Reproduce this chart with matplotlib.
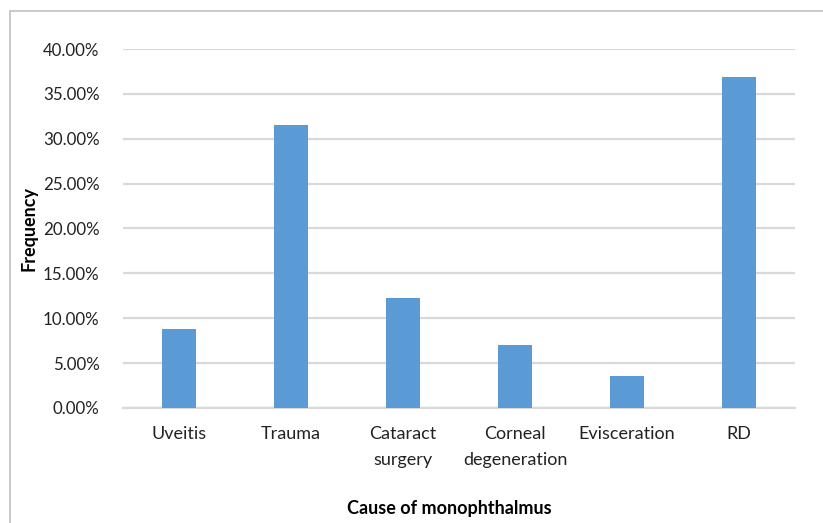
import numpy as np
import matplotlib.pyplot as plt
from matplotlib.patches import Rectangle
from matplotlib.ticker import PercentFormatter

causes = ["Uveitis", "Trauma", "Cataract\nsurgery", "Corneal\ndegeneration", "Evisceration", "RD"]
frequency = [8.77, 31.58, 12.28, 7.02, 3.51, 36.84]

plt.rcParams['font.family'] = ['Lato', 'DejaVu Sans']

fig = plt.figure(figsize=(8.23, 5.23), dpi=100)
ax = fig.add_axes([0.1495, 0.2199, 0.8165, 0.6864])

# chart frame (goes off the image on right and bottom)
fig.patches.append(Rectangle((10 / 823, -0.05), 1.2, 1 - 11 / 523 + 0.05,
                             transform=fig.transFigure, fill=False,
                             edgecolor='#c0c0c0', lw=1.2))

x = np.arange(len(causes))
ax.bar(x, frequency, width=0.31, color='#5b9bd5', zorder=3)

ax.set_xlim(-0.5, len(causes) - 0.5)
ax.set_ylim(0, 40)
ax.set_yticks(np.arange(0, 41, 5))
ax.yaxis.set_major_formatter(PercentFormatter(decimals=2))
ax.grid(axis='y', color='#d9d9d9', lw=1.6, zorder=0)
for s in ['top', 'right', 'left']:
    ax.spines[s].set_visible(False)
ax.spines['bottom'].set_color('#d9d9d9')
ax.spines['bottom'].set_linewidth(1.6)
ax.tick_params(length=0, labelsize=13, colors='#222222')
ax.tick_params(axis='y', pad=17, labelsize=12.2)
ax.tick_params(axis='x', pad=13)
ax.set_xticks(x)
ax.set_xticklabels(causes, linespacing=1.75, va='top')

ax.set_ylabel("Frequency", fontsize=13, fontweight='bold')
ax.yaxis.set_label_coords(-0.127, 0.5)
ax.set_xlabel("Cause of monophthalmus", fontsize=13, fontweight='bold')
ax.xaxis.set_label_coords(0.485, -0.255)

fig.savefig('out.png', dpi=100)
